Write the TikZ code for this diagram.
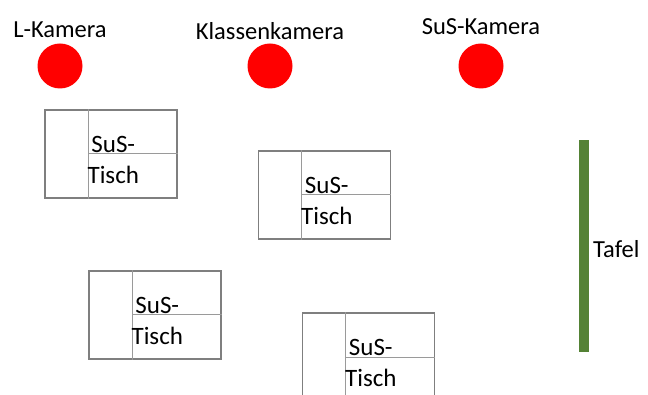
\documentclass[tikz,border=0pt]{standalone}
\usepackage{fontspec}
\setmainfont{Carlito}
\definecolor{tafelgreen}{HTML}{548235}
\definecolor{tischgray}{HTML}{7F7F7F}
\definecolor{innergray}{HTML}{9A9A9A}
\begin{document}
\begin{tikzpicture}[x=1pt,y=-1pt,
  tisch/.style={draw=tischgray, line width=1.4pt, minimum width=132pt, minimum height=88pt, inner sep=0pt},
  inner/.style={draw=innergray, line width=1pt},
  tischtext/.style={align=center, inner sep=0pt, font=\fontsize{25}{31}\selectfont},
  cam/.style={circle, fill=red, minimum size=45pt, inner sep=0pt},
  lbl/.style={inner sep=0pt, font=\fontsize{24.5}{28}\selectfont}]
\clip (0,0) rectangle (648,395);
\useasboundingbox (0,0) rectangle (648,395);
% cameras
\node[cam] (lcam) at (60,66) {};
\node[cam] (kcam) at (270,66) {};
\node[cam] (scam) at (481,66) {};
\node[lbl] (lcamlbl) at (60,30) {L-Kamera};
\node[lbl] (kcamlbl) at (270,31) {Klassenkamera};
\node[lbl] (scamlbl) at (481,27) {SuS-Kamera};
% tables
\foreach \n/\x/\y in {t1/111/154, t2/324.5/195, t3/155/315, t4/368.5/357} {
  \node[tisch] (\n) at (\x,\y) {};
  \draw[inner] ([xshift=44pt]\n.north west) -- ([xshift=44pt]\n.south west);
  \draw[inner] ([xshift=44pt]\n.west) -- (\n.east);
  \node[tischtext] (\n-label) at ([xshift=69pt,yshift=-6pt]\n.west) {SuS-\\Tisch};
}
% board
\node[fill=tafelgreen, minimum width=10pt, minimum height=212pt, inner sep=0pt] (tafel) at (584,246) {};
\node[lbl, anchor=west] (tafellbl) at (593,249) {Tafel};
\end{tikzpicture}
\end{document}
